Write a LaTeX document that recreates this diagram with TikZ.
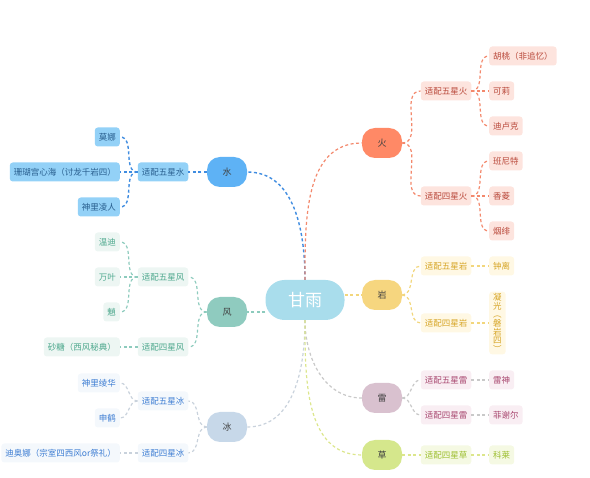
\documentclass[tikz,border=0pt]{standalone}
\usepackage{fontspec}
\setmainfont{Noto Sans CJK SC}
\usetikzlibrary{positioning}
\definecolor{hubfill}{HTML}{A9DDEC}
\definecolor{shuimain}{HTML}{5EB2F5}
\definecolor{shuifill}{HTML}{93D1F7}
\definecolor{shuitext}{HTML}{285E8E}
\definecolor{shuiline}{HTML}{3F8CE0}
\definecolor{huomain}{HTML}{FF8966}
\definecolor{huofill}{HTML}{FDE4DE}
\definecolor{huotext}{HTML}{B9483A}
\definecolor{huoline}{HTML}{F3886C}
\definecolor{fengmain}{HTML}{8FCBBF}
\definecolor{fengfill}{HTML}{EDF6F3}
\definecolor{fengtext}{HTML}{4DA88D}
\definecolor{fengline}{HTML}{8DCBBD}
\definecolor{bingmain}{HTML}{C7D8E9}
\definecolor{bingfill}{HTML}{F4F8FC}
\definecolor{bingtext}{HTML}{3D7DD3}
\definecolor{bingline}{HTML}{C9D2DC}
\definecolor{yanmain}{HTML}{F6D67F}
\definecolor{yanfill}{HTML}{FFF8E4}
\definecolor{yantext}{HTML}{D6A424}
\definecolor{yanline}{HTML}{F2D67C}
\definecolor{leimain}{HTML}{D9C1CF}
\definecolor{leifill}{HTML}{F9EEF3}
\definecolor{leitext}{HTML}{A8476F}
\definecolor{leiline}{HTML}{C9C9C9}
\definecolor{caomain}{HTML}{D5E78C}
\definecolor{caofill}{HTML}{F5F9E3}
\definecolor{caotext}{HTML}{9CBE2E}
\definecolor{caoline}{HTML}{DCE68C}
\newcommand{\tagfont}{\fontsize{8.5}{8.6}\selectfont}
\newcommand{\elemfont}{\fontsize{9}{10}\selectfont}
\tikzset{
  hub/.style={
    fill=hubfill,
    rounded corners=19pt,
    minimum width=79pt,
    minimum height=40pt,
    inner sep=0pt,
    text=white,
    font=\fontsize{17}{18}\selectfont
  },
  elem/.style={rounded corners=13pt, minimum width=40pt, minimum height=30pt, inner sep=0pt, text=black!75, font=\elemfont},
  tag/.style={rounded corners=3pt, minimum height=19pt, inner xsep=4pt, inner ysep=0pt, font=\tagfont},
  shui/.style={tag, fill=shuifill, text=shuitext},
  huo/.style={tag, fill=huofill, text=huotext},
  feng/.style={tag, fill=fengfill, text=fengtext},
  bing/.style={tag, fill=bingfill, text=bingtext},
  yan/.style={tag, fill=yanfill, text=yantext},
  lei/.style={tag, fill=leifill, text=leitext},
  cao/.style={tag, fill=caofill, text=caotext},
  link/.style={dash pattern=on 3pt off 2.5pt, line width=1.2pt}
}

\begin{document}
\begin{tikzpicture}[x=1pt, y=1pt]
  \useasboundingbox (0,0) rectangle (590,-478);

  % centre and the seven elements
  \node[hub] (gy) at (305,-300) {甘雨};
  \node[elem, fill=shuimain] (shui) at (227,-172) {水};
  \node[elem, fill=fengmain] (feng) at (227,-312) {风};
  \node[elem, fill=bingmain] (bing) at (227,-427) {冰};
  \node[elem, fill=huomain] (huo) at (382,-143) {火};
  \node[elem, fill=yanmain] (yan) at (382,-295) {岩};
  \node[elem, fill=leimain] (lei) at (382,-398) {雷};
  \node[elem, fill=caomain] (cao) at (382,-455) {草};

  \draw[link, shuiline, line width=1.4pt] (gy.north) to[out=90, in=0] (shui.east);
  \draw[link, huoline] (gy.north) to[out=90, in=180] (huo.west);
  \draw[link, fengline] (gy.west |- feng.east) -- (feng.east);
  \draw[link, yanline] (gy.east |- yan.west) -- (yan.west);
  \draw[link, bingline] (gy.south) to[out=-90, in=0] (bing.east);
  \draw[link, leiline] (gy.south) to[out=-90, in=180] (lei.west);
  \draw[link, caoline] (gy.south) to[out=-90, in=180] (cao.west);

  % left side
  \node[shui] (sx5) at (163,-172) {适配五星水};
  \node[shui, anchor=east] (mona) at (120,-137) {莫娜};
  \node[shui, anchor=east] (kokomi) at (120,-172) {珊瑚宫心海（讨龙千岩四）};
  \node[shui, anchor=east] (ayato) at (120,-207) {神里凌人};
  \draw[link, shuiline, line width=1.4pt] (shui.west) -- (sx5.east);
  \foreach \n in {mona, kokomi, ayato}
    \draw[link, shuiline, line width=1.4pt] (sx5.west) to[out=180, in=0] (\n.east);

  \node[feng] (fx5) at (163,-277) {适配五星风};
  \node[feng] (fx4) at (163,-347) {适配四星风};
  \node[feng, anchor=east] (venti) at (120,-242) {温迪};
  \node[feng, anchor=east] (kazuha) at (120,-277) {万叶};
  \node[feng, anchor=east] (xiao) at (120,-312) {魈};
  \node[feng, anchor=east] (sucrose) at (120,-347) {砂糖（西风秘典）};
  \draw[link, fengline] (feng.west) to[out=180, in=0] (fx5.east);
  \draw[link, fengline] (feng.west) to[out=180, in=0] (fx4.east);
  \foreach \n in {venti, kazuha, xiao}
    \draw[link, fengline] (fx5.west) to[out=180, in=0] (\n.east);
  \draw[link, fengline] (fx4.west) -- (sucrose.east);

  \node[bing] (bx5) at (163,-401) {适配五星冰};
  \node[bing] (bx4) at (163,-453) {适配四星冰};
  \node[bing, anchor=east] (ayaka) at (120,-383) {神里绫华};
  \node[bing, anchor=east] (shenhe) at (120,-418) {申鹤};
  \node[bing, anchor=east] (diona) at (120,-453) {迪奥娜（宗室四西风or祭礼）};
  \draw[link, bingline] (bing.west) to[out=180, in=0] (bx5.east);
  \draw[link, bingline] (bing.west) to[out=180, in=0] (bx4.east);
  \foreach \n in {ayaka, shenhe}
    \draw[link, bingline] (bx5.west) to[out=180, in=0] (\n.east);
  \draw[link, bingline] (bx4.west) -- (diona.east);

  % right side
  \node[huo] (hx5) at (446,-91) {适配五星火};
  \node[huo] (hx4) at (446,-196) {适配四星火};
  \node[huo, anchor=west] (hutao) at (489,-56) {胡桃（非追忆）};
  \node[huo, anchor=west] (klee) at (489,-91) {可莉};
  \node[huo, anchor=west] (diluc) at (489,-126) {迪卢克};
  \node[huo, anchor=west] (bennett) at (489,-161) {班尼特};
  \node[huo, anchor=west] (xiangling) at (489,-196) {香菱};
  \node[huo, anchor=west] (yanfei) at (489,-231) {烟绯};
  \draw[link, huoline] (huo.east) to[out=0, in=180] (hx5.west);
  \draw[link, huoline] (huo.east) to[out=0, in=180] (hx4.west);
  \foreach \n in {hutao, klee, diluc}
    \draw[link, huoline] (hx5.east) to[out=0, in=180] (\n.west);
  \foreach \n in {bennett, xiangling, yanfei}
    \draw[link, huoline] (hx4.east) to[out=0, in=180] (\n.west);

  \node[yan] (yx5) at (446,-266) {适配五星岩};
  \node[yan] (yx4) at (446,-323) {适配四星岩};
  \node[yan, anchor=west] (zhongli) at (489,-266) {钟离};
  \node[yan, anchor=west, align=center, inner ysep=2pt] (ningguang) at (489,-323) {凝\\光\\︵\\磐\\岩\\四\\︶};
  \draw[link, yanline] (yan.east) to[out=0, in=180] (yx5.west);
  \draw[link, yanline] (yan.east) to[out=0, in=180] (yx4.west);
  \draw[link, yanline] (yx5.east) -- (zhongli.west);
  \draw[link, yanline] (yx4.east) -- (ningguang.west);

  \node[lei] (lx5) at (446,-380) {适配五星雷};
  \node[lei] (lx4) at (446,-415) {适配四星雷};
  \node[lei, anchor=west] (raiden) at (489,-380) {雷神};
  \node[lei, anchor=west] (fischl) at (489,-415) {菲谢尔};
  \draw[link, leiline] (lei.east) to[out=0, in=180] (lx5.west);
  \draw[link, leiline] (lei.east) to[out=0, in=180] (lx4.west);
  \draw[link, leiline] (lx5.east) -- (raiden.west);
  \draw[link, leiline] (lx4.east) -- (fischl.west);

  \node[cao] (cx4) at (446,-455) {适配四星草};
  \node[cao, anchor=west] (collei) at (489,-455) {科莱};
  \draw[link, caoline] (cao.east) -- (cx4.west);
  \draw[link, caoline] (cx4.east) -- (collei.west);

\end{tikzpicture}
\end{document}
